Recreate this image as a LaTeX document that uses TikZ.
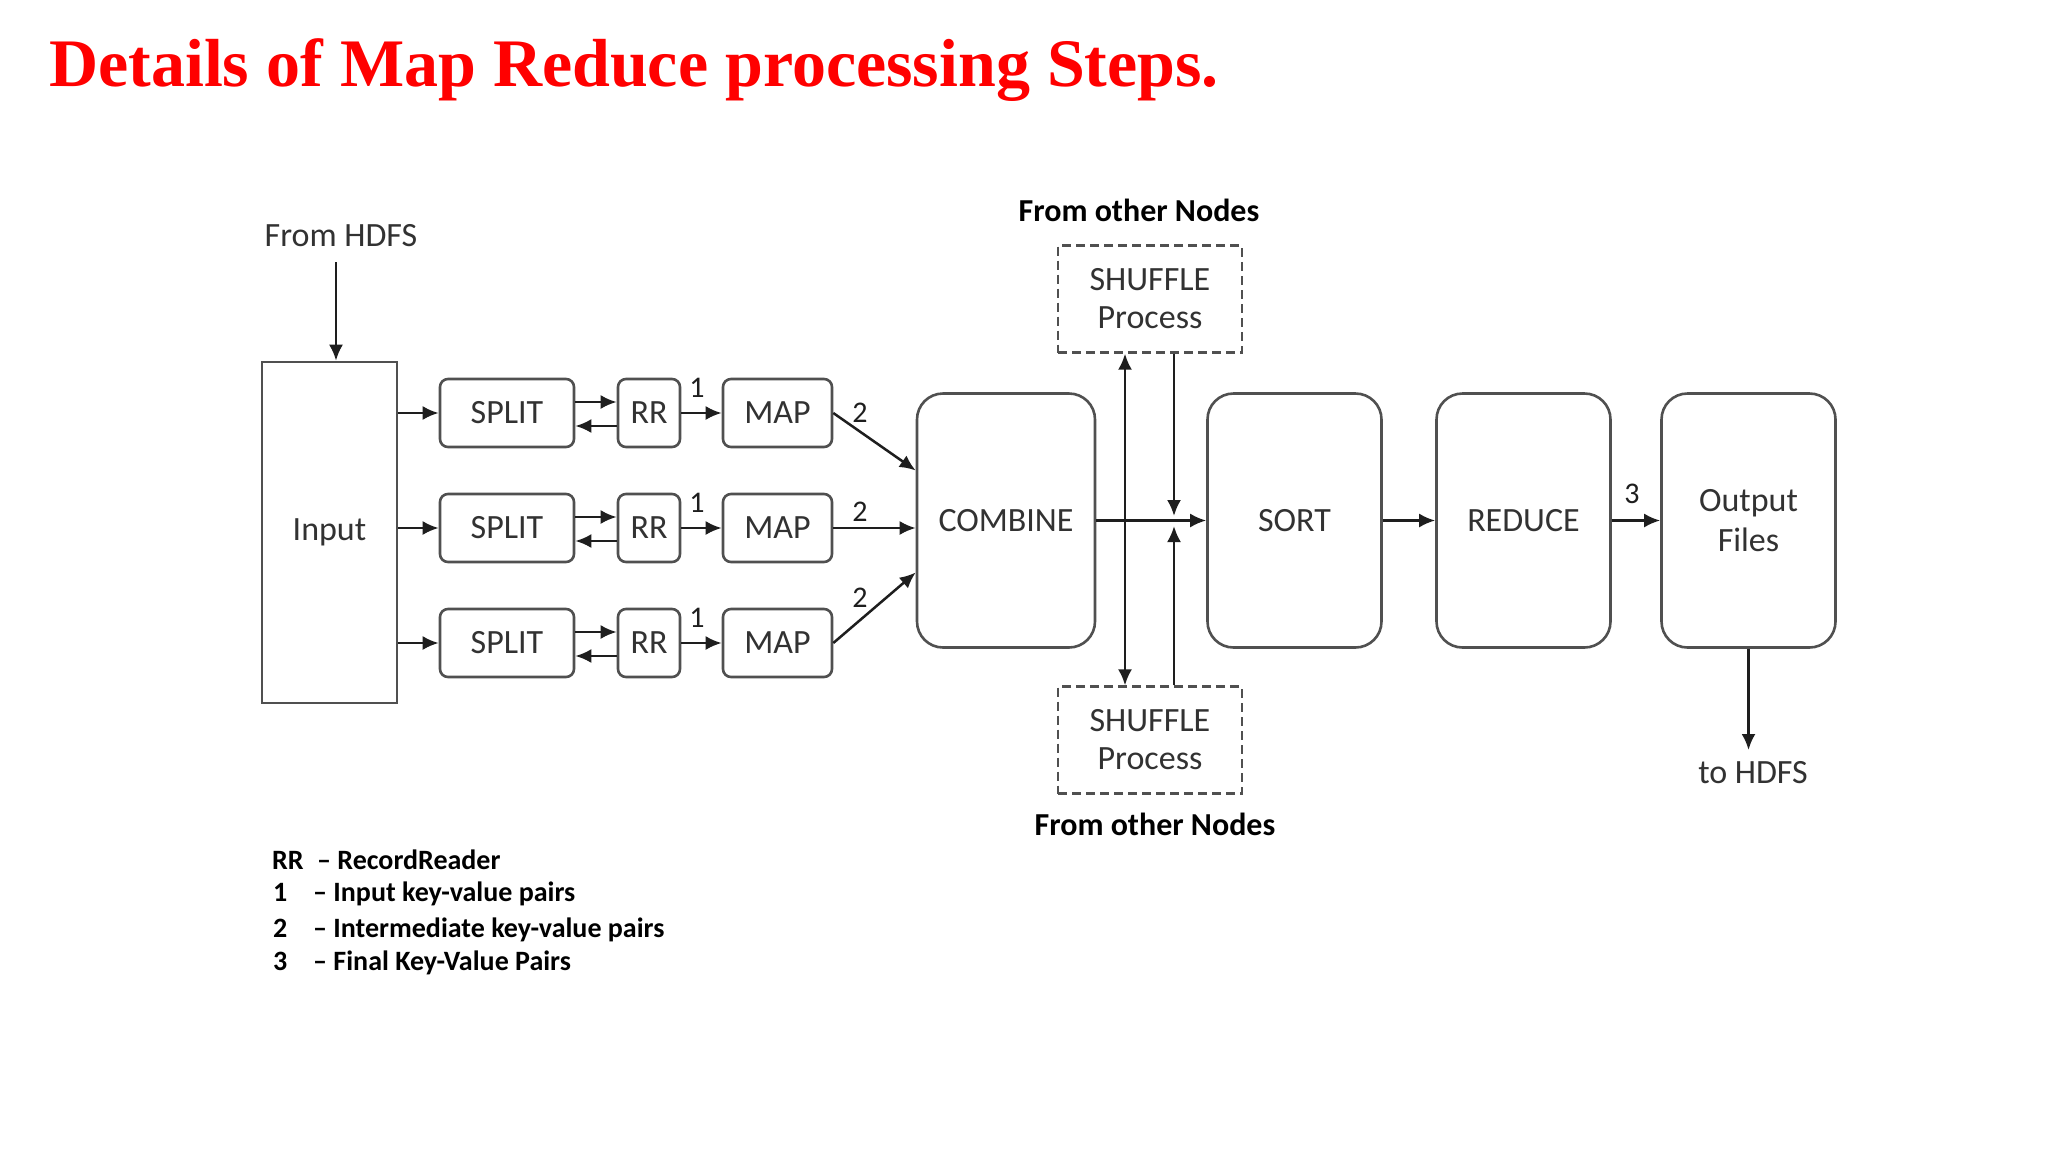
\documentclass[tikz,border=0pt]{standalone}
\usepackage{fontspec}
\setmainfont{Liberation Serif}
\newfontfamily\calfont[Ligatures=TeX]{Carlito}
\usetikzlibrary{arrows.meta}
\definecolor{boxgray}{RGB}{80,80,80}
\definecolor{txtgray}{RGB}{50,50,50}
\definecolor{titlered}{RGB}{255,0,0}
\definecolor{arrowcol}{RGB}{30,30,30}
\begin{document}
\begin{tikzpicture}[x=1pt,y=-1pt,
  dtext/.style={font=\calfont\fontsize{34}{40}\selectfont, text=txtgray, align=center},
  box/.style={dtext, draw=boxgray, line width=2.6pt, rounded corners=8pt, inner sep=0pt},
  bigbox/.style={box, rounded corners=26pt, minimum width=174pt, minimum height=254pt},
  shuf/.style={dtext, font=\calfont\fontsize{34}{38}\selectfont, draw=boxgray, line width=2.3pt, dash pattern=on 9pt off 5pt, minimum width=184pt, minimum height=107pt, inner sep=0pt},
  arr/.style={line width=2.5pt, draw=arrowcol, -{Latex[length=16pt,width=14pt]}},
  darr/.style={arr, {Latex[length=16pt,width=14pt]}-{Latex[length=16pt,width=14pt]}},
  lbl/.style={font=\calfont\fontsize{30}{34}\selectfont, text=arrowcol},
  other/.style={font=\calfont\bfseries\fontsize{32}{36}\selectfont, text=black},
  leg/.style={font=\calfont\bfseries\fontsize{28}{30}\selectfont, text=black, anchor=base west, inner sep=0pt},
  titlestyle/.style={font=\bfseries\fontsize{68}{75}\selectfont, text=titlered, anchor=base west, inner sep=0pt},
]
\useasboundingbox (0,0) rectangle (2048,1152);
\fill[white] (0,0) rectangle (2048,1152);

% title
\node[titlestyle] (title) at (49,86) {Details of Map Reduce processing Steps.};

% input side
\node[dtext] (hdfs) at (341,236) {From HDFS};
\node[box, rounded corners=0pt, minimum width=135pt, minimum height=341pt] (in) at (329.5,532.5) {Input};
\coordinate (hdfsstart) at (336,262);
\draw[arr] (hdfsstart) -- (hdfsstart |- in.north);

% rows
\foreach \r/\y in {1/413,2/528,3/643}{
  \node[box, minimum width=134pt, minimum height=68pt] (s\r) at (507,\y) {SPLIT};
  \node[box, minimum width=62pt, minimum height=68pt] (rr\r) at (649,\y) {RR};
  \node[box, minimum width=109pt, minimum height=68pt] (m\r) at (777.5,\y) {MAP};
  \draw[arr] (in.east |- s\r.west) -- (s\r.west);
  \draw[arr] ([yshift=11pt]s\r.east) -- ([yshift=11pt]rr\r.west);
  \draw[arr] ([yshift=-13pt]rr\r.west) -- ([yshift=-13pt]s\r.east);
  \draw[arr] (rr\r.east) -- (m\r.west);
  \node[lbl] (one\r) at (697,\y-25) {1};
}

% combine and later stages
\node[bigbox, minimum width=178pt] (comb) at (1006,520.5) {COMBINE};
\node[bigbox] (sort) at (1294.5,520.5) {SORT};
\node[bigbox] (red) at (1523.5,520.5) {REDUCE};
\node[bigbox] (out) at (1748.5,520.5) {Output\\Files};

\draw[arr] (m1.east) -- ([yshift=50pt]comb.west);
\draw[arr] (m2.east) -- (m2.east -| comb.west);
\draw[arr] (m3.east) -- ([yshift=-52pt]comb.west);
\node[lbl] (two1) at (860,413) {2};
\node[lbl] (two2) at (860,512) {2};
\node[lbl] (two3) at (860,598) {2};

\draw[arr] (comb.east) -- (sort.west);
\draw[arr] (sort.east) -- (red.west);
\draw[arr] (red.east) -- (out.west);
\node[lbl] (three) at (1632,494) {3};

% shuffle
\node[shuf] (sht) at (1150,299) {SHUFFLE\\Process};
\node[shuf] (shb) at (1150,740) {SHUFFLE\\Process};
\node[other] (othert) at (1139,210) {From other Nodes};
\node[other] (otherb) at (1155,824) {From other Nodes};
\draw[darr] ([xshift=-25pt]sht.south) -- ([xshift=-25pt]shb.north);
\coordinate (bt) at (1174,516);
\coordinate (bb) at (1174,526);
\draw[arr] ([xshift=24pt]sht.south) -- (bt);
\draw[arr] ([xshift=24pt]shb.north) -- (bb);

% output to hdfs
\node[dtext] (tohdfs) at (1753,773) {to HDFS};
\coordinate (hdfsend) at (1748.5,750);
\draw[arr] (out.south) -- (hdfsend);

% legend
\node[leg] (lrr) at (272,869) {RR};
\node[leg] (lrrt) at (317,869) {– RecordReader};
\node[leg] (l1) at (273,901) {1};
\node[leg] (l1t) at (313,901) {– Input key-value pairs};
\node[leg] (l2) at (273,937) {2};
\node[leg] (l2t) at (313,937) {– Intermediate key-value pairs};
\node[leg] (l3) at (273,970) {3};
\node[leg] (l3t) at (313,970) {– Final Key-Value Pairs};
\end{tikzpicture}
\end{document}
